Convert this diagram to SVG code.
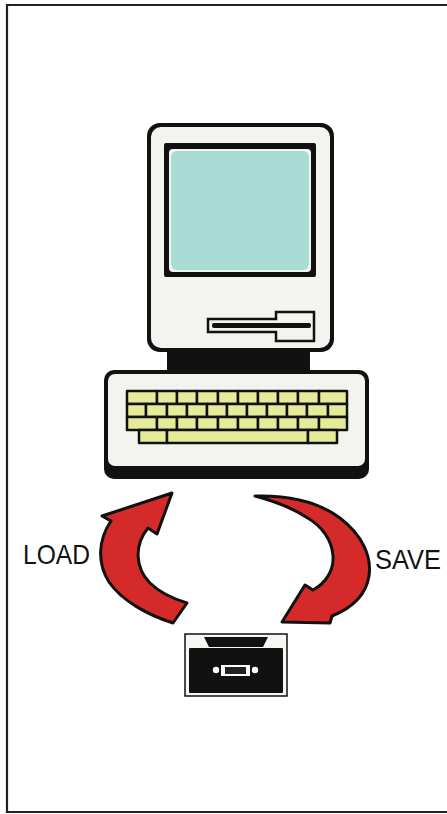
<svg xmlns="http://www.w3.org/2000/svg" width="447" height="814" viewBox="0 0 447 814">
  <style>
    .ink { fill: #111; }
    .case { fill: #f3f3ef; }
    .key { fill: #e6eb9a; stroke: #111; stroke-width: 2.5; stroke-linejoin: round; }
    .arrow { fill: #d42a2a; stroke: #111; stroke-width: 3; stroke-linejoin: round; }
    .label { font-family: "Liberation Sans", Arial, sans-serif; font-size: 28px; fill: #111; }
  </style>

  <rect width="447" height="814" fill="#ffffff"/>

  <!-- page frame -->
  <path d="M447,5 H7 V812 H447" fill="none" stroke="#222" stroke-width="2.2"/>

  <!-- computer: monitor, neck and keyboard -->
  <g id="computer">
    <!-- neck -->
    <rect class="ink" x="167" y="345" width="143" height="30"/>
    <!-- monitor case -->
    <rect class="ink" x="147" y="123" width="187" height="229" rx="13"/>
    <rect class="case" x="151" y="127" width="179" height="221" rx="10"/>
    <!-- screen bezel and glass -->
    <rect class="ink" x="164" y="143" width="152" height="134" rx="2"/>
    <rect x="169" y="149" width="142" height="123" rx="4" fill="#f3f3ef"/>
    <rect x="171" y="151" width="138" height="119" rx="6" fill="#a9dcd5"/>
    <!-- disk slot -->
    <path d="M208,319 H276 V312 H314 V341 H276 V332 H208 Z" fill="#f3f3ef" stroke="#111" stroke-width="2.5"/>
    <rect class="ink" x="212" y="323" width="99" height="5" rx="2"/>

    <!-- keyboard base -->
    <rect class="ink" x="104" y="370" width="265" height="109" rx="10"/>
    <rect class="case" x="108" y="374" width="257" height="92" rx="7"/>

    <!-- keys: row 1 -->
    <g id="keys">
      <rect class="key" x="127" y="391" width="30" height="13"/>
      <rect class="key" x="157" y="391" width="20" height="13"/>
      <rect class="key" x="177" y="391" width="20" height="13"/>
      <rect class="key" x="197" y="391" width="21" height="13"/>
      <rect class="key" x="218" y="391" width="20" height="13"/>
      <rect class="key" x="238" y="391" width="20" height="13"/>
      <rect class="key" x="258" y="391" width="20" height="13"/>
      <rect class="key" x="278" y="391" width="20" height="13"/>
      <rect class="key" x="298" y="391" width="21" height="13"/>
      <rect class="key" x="319" y="391" width="28" height="13"/>
      <!-- row 2 -->
      <rect class="key" x="127" y="404" width="19" height="13"/>
      <rect class="key" x="146" y="404" width="21" height="13"/>
      <rect class="key" x="167" y="404" width="20" height="13"/>
      <rect class="key" x="187" y="404" width="20" height="13"/>
      <rect class="key" x="207" y="404" width="20" height="13"/>
      <rect class="key" x="227" y="404" width="20" height="13"/>
      <rect class="key" x="247" y="404" width="20" height="13"/>
      <rect class="key" x="267" y="404" width="20" height="13"/>
      <rect class="key" x="287" y="404" width="20" height="13"/>
      <rect class="key" x="307" y="404" width="21" height="13"/>
      <rect class="key" x="328" y="404" width="19" height="13"/>
      <!-- row 3 -->
      <rect class="key" x="127" y="417" width="30" height="13"/>
      <rect class="key" x="157" y="417" width="20" height="13"/>
      <rect class="key" x="177" y="417" width="20" height="13"/>
      <rect class="key" x="197" y="417" width="21" height="13"/>
      <rect class="key" x="218" y="417" width="20" height="13"/>
      <rect class="key" x="238" y="417" width="20" height="13"/>
      <rect class="key" x="258" y="417" width="20" height="13"/>
      <rect class="key" x="278" y="417" width="20" height="13"/>
      <rect class="key" x="298" y="417" width="21" height="13"/>
      <rect class="key" x="319" y="417" width="28" height="13"/>
      <!-- row 4 -->
      <rect class="key" x="139" y="430" width="28" height="13"/>
      <rect class="key" x="167" y="430" width="141" height="13"/>
      <rect class="key" x="308" y="430" width="29" height="13"/>
    </g>
  </g>

  <!-- cassette tape -->
  <g id="cassette">
    <rect x="185" y="634" width="102" height="62" fill="#f7f7f4" stroke="#111" stroke-width="1.5"/>
    <polygon class="ink" points="204,637 268,637 263,647 209,647"/>
    <rect class="ink" x="189" y="648" width="94" height="45" rx="1"/>
    <circle cx="216" cy="670" r="3.2" fill="#fff"/>
    <circle cx="255" cy="670" r="3.2" fill="#fff"/>
    <rect x="221" y="665" width="29" height="11" fill="#fff"/>
    <rect x="225" y="667" width="21" height="7" fill="#222"/>
  </g>

  <!-- load / save arrows -->
  <g id="connectors">
    <g id="load-arrow">
      <path class="arrow" d="M172,493 L157,534 L148,528 C134,545 135,568 150,583 C160,593 174,599 187,603 L173,623 C148,615 122,601 109,582 C97,563 98,540 111,521 L102,516 Z"/>
    </g>
    <g id="save-arrow">
      <path class="arrow" d="M255,496 C290,495 320,503 340,518 C362,535 372,556 369,576 C366,595 352,608 332,616 L330,623 L282,622 L305,585 L313,590 C326,583 334,570 333,556 C332,540 322,526 306,517 C292,508 274,501 255,496 Z"/>
    </g>
  </g>

  <!-- labels -->
  <text class="label" x="23" y="564" textLength="67" lengthAdjust="spacingAndGlyphs">LOAD</text>
  <text class="label" x="375" y="569" textLength="66" lengthAdjust="spacingAndGlyphs">SAVE</text>
</svg>
